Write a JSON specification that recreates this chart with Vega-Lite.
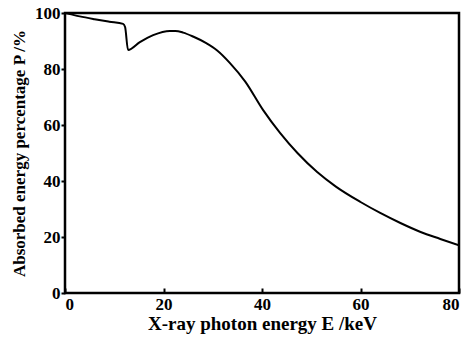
{
  "$schema": "https://vega.github.io/schema/vega-lite/v6.json",
  "width": 394,
  "height": 280,
  "autosize": {"type": "none"},
  "padding": {"left": 65, "top": 13, "right": 6, "bottom": 48},
  "background": "white",
  "config": {
    "view": {"stroke": "black", "strokeWidth": 2.5},
    "font": "Liberation Serif",
    "axis": {
      "domain": false,
      "grid": false,
      "tickColor": "black",
      "tickWidth": 2,
      "labelFont": "Liberation Serif",
      "labelFontWeight": "bold",
      "labelFontSize": 17,
      "labelColor": "black",
      "titleFont": "Liberation Serif",
      "titleFontWeight": "bold",
      "titleColor": "black"
    }
  },
  "data": {
    "values": [
      {"E": 0, "P": 100},
      {"E": 1, "P": 99.6},
      {"E": 3, "P": 98.8},
      {"E": 6, "P": 97.8},
      {"E": 9, "P": 96.9},
      {"E": 11.8, "P": 96.1},
      {"E": 12.2, "P": 95},
      {"E": 12.8, "P": 86.8},
      {"E": 15.2, "P": 89.6},
      {"E": 17.9, "P": 92.1},
      {"E": 21.3, "P": 93.6},
      {"E": 22.4, "P": 93.6},
      {"E": 24, "P": 93},
      {"E": 26, "P": 91.6},
      {"E": 28.5, "P": 89.4},
      {"E": 30.9, "P": 86.6},
      {"E": 33.5, "P": 82.1},
      {"E": 36.6, "P": 75.5},
      {"E": 40.2, "P": 65.4},
      {"E": 43.7, "P": 57.1},
      {"E": 47.2, "P": 50},
      {"E": 51.2, "P": 43.2},
      {"E": 55, "P": 38},
      {"E": 60, "P": 32.5},
      {"E": 64, "P": 28.6},
      {"E": 68.1, "P": 25},
      {"E": 72.2, "P": 21.8},
      {"E": 76.2, "P": 19.3},
      {"E": 80, "P": 17}
    ]
  },
  "mark": {"type": "line", "color": "black", "strokeWidth": 2, "interpolate": "monotone", "clip": true},
  "encoding": {
    "x": {
      "field": "E",
      "type": "quantitative",
      "scale": {"domain": [0, 80], "nice": false, "zero": false},
      "axis": {
        "values": [0, 20, 40, 60, 80],
        "tickSize": -5,
        "labelPadding": 8,
        "title": "X-ray photon energy E /keV",
        "titleFontSize": 19,
        "titlePadding": 2
      }
    },
    "y": {
      "field": "P",
      "type": "quantitative",
      "scale": {"domain": [0, 100], "nice": false},
      "axis": {
        "values": [0, 20, 40, 60, 80, 100],
        "tickSize": 4,
        "labelPadding": 1,
        "title": "Absorbed energy percentage P /%",
        "titleFontSize": 17,
        "titlePadding": 6
      }
    }
  }
}
